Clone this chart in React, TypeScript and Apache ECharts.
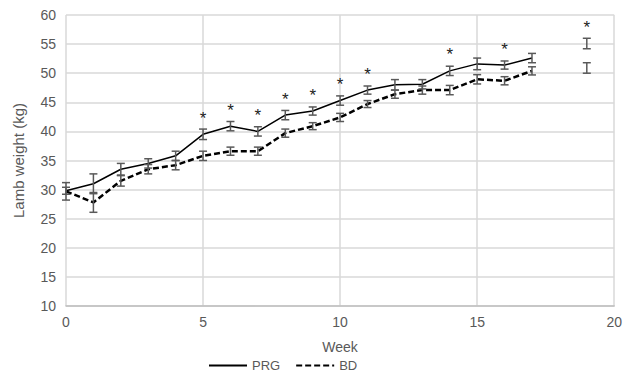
import React, { useEffect, useRef } from "react";
import * as echarts from "echarts";

const weeks = [0, 1, 2, 3, 4, 5, 6, 7, 8, 9, 10, 11, 12, 13, 14, 15, 16, 17];
const prg = [29.8, 31.0, 33.5, 34.5, 35.8, 39.5, 40.9, 40.0, 42.8, 43.5, 45.3, 47.1, 48.0, 48.1, 50.4, 51.6, 51.4, 52.6];
const prgErr = [0.6, 1.7, 1.0, 0.8, 0.8, 0.9, 0.8, 0.8, 0.8, 0.7, 0.8, 0.7, 0.9, 0.8, 0.8, 1.0, 0.7, 0.8];
const bd = [29.7, 27.8, 31.5, 33.5, 34.2, 35.8, 36.6, 36.6, 39.7, 40.9, 42.4, 44.7, 46.4, 47.1, 47.1, 48.95, 48.7, 50.4];
const bdErr = [1.5, 1.7, 0.9, 0.8, 0.8, 0.8, 0.7, 0.7, 0.7, 0.6, 0.7, 0.6, 0.7, 0.7, 0.8, 0.8, 0.7, 0.7];
const extraWeek = 19;
const prgExtra = 55.1;
const prgExtraErr = 0.9;
const bdExtra = 50.9;
const bdExtraErr = 0.9;
const sigWeeks = [5, 6, 7, 8, 9, 10, 11, 14, 16, 19];

export default function App() {
  const ref = useRef<HTMLDivElement>(null);
  useEffect(() => {
    if (!ref.current) return;
    const chart = echarts.init(ref.current, null, { renderer: "svg" });
    const font = "Liberation Sans, Arial, sans-serif";
    const errData: number[][] = [];
    weeks.forEach((w, i) => {
      errData.push([w, prg[i] - prgErr[i], prg[i] + prgErr[i]]);
      errData.push([w, bd[i] - bdErr[i], bd[i] + bdErr[i]]);
    });
    errData.push([extraWeek, prgExtra - prgExtraErr, prgExtra + prgExtraErr]);
    errData.push([extraWeek, bdExtra - bdExtraErr, bdExtra + bdExtraErr]);
    const starData = sigWeeks.map((w) => {
      const i = weeks.indexOf(w);
      return [w, i >= 0 ? prg[i] : prgExtra];
    });
    chart.setOption({
      animation: false,
      textStyle: { fontFamily: font },
      grid: { left: 66, right: 9, top: 15, bottom: 72 },
      legend: {
        data: ["PRG", "BD"],
        bottom: 1,
        left: 203,
        itemWidth: 38,
        itemHeight: 12,
        itemGap: 15,
        itemStyle: { opacity: 0 },
        textStyle: { fontSize: 13, color: "#595959", fontFamily: font },
      },
      xAxis: {
        type: "value",
        min: 0,
        max: 20,
        interval: 5,
        name: "Week",
        nameLocation: "middle",
        nameGap: 34,
        nameTextStyle: { fontSize: 14, color: "#595959" },
        axisLine: { lineStyle: { color: "#bfbfbf", width: 1.5 } },
        axisTick: { show: false },
        axisLabel: { fontSize: 14, color: "#595959", margin: 9 },
        splitLine: { show: true, lineStyle: { color: "#d9d9d9", width: 1.5 } },
      },
      yAxis: {
        type: "value",
        min: 10,
        max: 60,
        interval: 5,
        name: "Lamb weight (kg)",
        nameLocation: "middle",
        nameGap: 40,
        nameTextStyle: { fontSize: 15, color: "#595959" },
        axisLine: { show: false },
        axisTick: { show: false },
        axisLabel: { fontSize: 14, color: "#595959", margin: 10 },
        splitLine: { show: true, lineStyle: { color: "#d9d9d9", width: 1.5 } },
      },
      series: [
        {
          name: "PRG",
          type: "line",
          data: weeks.map((w, i) => [w, prg[i]]),
          symbol: "none",
          lineStyle: { color: "#000", width: 1.5, type: "solid" },
          itemStyle: { color: "#000" },
          z: 3,
        },
        {
          name: "BD",
          type: "line",
          data: weeks.map((w, i) => [w, bd[i]]),
          symbol: "none",
          lineStyle: { color: "#000", width: 2.5, type: [6, 3] },
          itemStyle: { color: "#000" },
          z: 3,
        },
        {
          name: "err",
          type: "custom",
          data: errData,
          encode: { x: 0, y: [1, 2] },
          itemStyle: { color: "#595959" },
          z: 4,
          renderItem: (params: any, api: any) => {
            const x = api.value(0);
            const lo = api.coord([x, api.value(1)]);
            const hi = api.coord([x, api.value(2)]);
            const w = 4;
            const st = { stroke: "#595959", lineWidth: 1.5 };
            return {
              type: "group",
              children: [
                { type: "line", shape: { x1: lo[0], y1: lo[1], x2: hi[0], y2: hi[1] }, style: st },
                { type: "line", shape: { x1: lo[0] - w, y1: lo[1], x2: lo[0] + w, y2: lo[1] }, style: st },
                { type: "line", shape: { x1: hi[0] - w, y1: hi[1], x2: hi[0] + w, y2: hi[1] }, style: st },
              ],
            };
          },
        },
        {
          name: "sig",
          type: "custom",
          data: starData,
          encode: { x: 0, y: 1 },
          itemStyle: { color: "#222" },
          z: 5,
          renderItem: (params: any, api: any) => {
            const p = api.coord([api.value(0), api.value(1)]);
            return {
              type: "text",
              x: p[0],
              y: p[1] - 16,
              style: {
                text: "*",
                fontSize: 17,
                fontFamily: font,
                fill: "#222222",
                align: "center",
                verticalAlign: "middle",
              },
            };
          },
        },
      ],
    });
    return () => chart.dispose();
  }, []);
  return <div ref={ref} style={{ width: 625, height: 378, position: "absolute", left: 0, top: 0 }} />;
}
